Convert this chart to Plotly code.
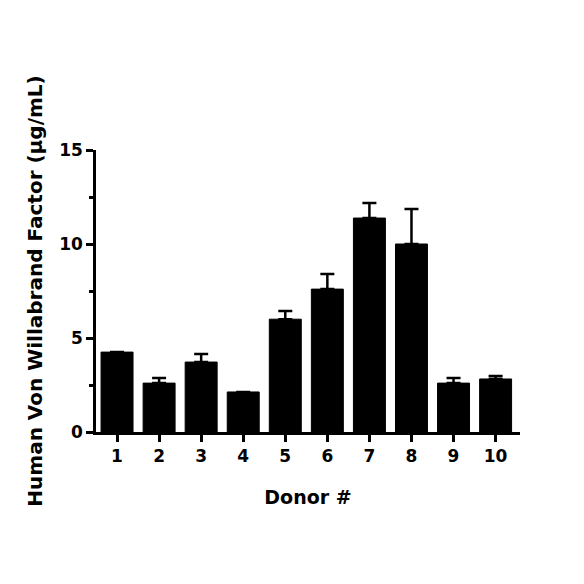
import plotly.graph_objects as go

donors = ["1", "2", "3", "4", "5", "6", "7", "8", "9", "10"]
x_pos = [1, 2, 3, 4, 5, 6, 7, 8, 9, 10]
means = [4.25, 2.6, 3.72, 2.13, 6.0, 7.6, 11.38, 10.0, 2.6, 2.82]
errors = [0.0, 0.27, 0.43, 0.0, 0.44, 0.8, 0.8, 1.86, 0.27, 0.16]
y_ticks = [0, 5, 10, 15]

font_family = "DejaVu Sans"

fig = go.Figure()
fig.add_trace(go.Bar(
    x=x_pos, y=means, width=0.76,
    marker=dict(color="black", line=dict(color="black", width=1)),
    error_y=dict(type="data", array=errors, arrayminus=[0] * len(errors),
                 symmetric=False, color="black", thickness=2.5, width=7),
))

fig.update_layout(
    width=584, height=584,
    margin=dict(l=88, r=72, t=142, b=160),
    paper_bgcolor="white", plot_bgcolor="white",
    showlegend=False,
    font=dict(family=font_family, color="black", size=17, weight="bold"),
)
fig.update_xaxes(
    range=[0.5, 10.58], tickvals=x_pos, ticktext=donors,
    showline=True, linecolor="black", linewidth=2.5,
    ticks="outside", ticklen=7, tickwidth=2.5, tickcolor="black",
    showgrid=False, zeroline=False, automargin=False,
    tickfont=dict(size=17, family=font_family, weight="bold"),
    title=dict(text="Donor #", font=dict(size=19, family=font_family, weight="bold"), standoff=26),
)
fig.update_yaxes(
    range=[0, 15], tickvals=y_ticks,
    showline=True, linecolor="black", linewidth=2.5,
    ticks="outside", ticklen=7, tickwidth=2.5, tickcolor="black",
    minor=dict(tickvals=[2.5, 7.5, 12.5], ticks="outside", ticklen=4, tickwidth=2.5, tickcolor="black"),
    showgrid=False, zeroline=False, automargin=False,
    tickfont=dict(size=17, family=font_family, weight="bold"),
    title=dict(text="Human Von Willabrand Factor (μg/mL)", font=dict(size=20, family=font_family, weight="bold"), standoff=12),
)

fig.write_html("out.html")
